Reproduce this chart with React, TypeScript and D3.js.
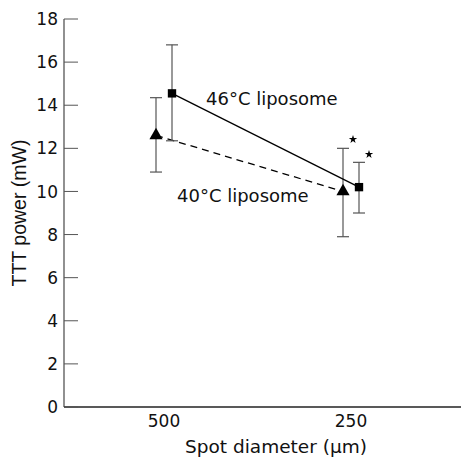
import React from "react";
import * as d3 from "d3";

const categories = ["500", "250"];
const seriesNames = ["40°C liposome", "46°C liposome"];
const means40 = [12.6, 10.0];
const upper40 = [14.35, 12.0];
const lower40 = [10.9, 7.9];
const means46 = [14.55, 10.2];
const upper46 = [16.8, 11.35];
const lower46 = [12.35, 9.0];
const yTicks = [0, 2, 4, 6, 8, 10, 12, 14, 16, 18];

const W = 461, H = 461;
const axisLeft = 64, axisBottom = 407, axisTop = 19;

export default function App() {
  const y = d3.scaleLinear().domain([0, 18]).range([axisBottom, axisTop]);
  const x = d3.scalePoint<string>().domain(categories).range([164, 351]);
  const series = [
    { name: seriesNames[0], means: means40, upper: upper40, lower: lower40, off: -8, dash: "7,5", shape: d3.symbolTriangle, size: 75, labelX: 177, labelY: 202 },
    { name: seriesNames[1], means: means46, upper: upper46, lower: lower46, off: 8, dash: "none", shape: d3.symbolSquare, size: 70, labelX: 206, labelY: 105 },
  ];
  const line = d3.line<[number, number]>().x(d => d[0]).y(d => d[1]);
  const star = d3.symbol().type(d3.symbolStar).size(22)();
  const font = "'DejaVu Sans', Lato, sans-serif";
  return (
    <svg width={W} height={H} style={{ position: "absolute", left: 0, top: 0 }}>
      <rect width={W} height={H} fill="#fff" />
      {/* axes */}
      <line x1={axisLeft} x2={axisLeft} y1={axisTop} y2={axisBottom} stroke="#555" strokeWidth={1.3} />
      <line x1={axisLeft} x2={W} y1={axisBottom} y2={axisBottom} stroke="#222" strokeWidth={1.3} />
      {yTicks.map(t => (
        <g key={t}>
          <line x1={axisLeft} x2={axisLeft + 14} y1={y(t)} y2={y(t)} stroke="#555" strokeWidth={1} />
          <text x={58} y={y(t)} dy="0.36em" textAnchor="end" fontFamily={font} fontSize={17} fill="#111">{t}</text>
        </g>
      ))}
      {categories.map(c => (
        <text key={c} x={x(c)} y={427} textAnchor="middle" fontFamily={font} fontSize={17} fill="#111">{c}</text>
      ))}
      <text x={276} y={453} textAnchor="middle" fontFamily={font} fontSize={18.5} fill="#111">Spot diameter (μm)</text>
      <text transform={`translate(26,213) rotate(-90)`} textAnchor="middle" fontFamily="'Liberation Sans', Arial, sans-serif" fontSize={19.5} fill="#111">TTT power (mW)</text>
      {series.map(s => {
        const pts: [number, number][] = categories.map((c, i) => [(x(c) as number) + s.off, y(s.means[i])]);
        return (
          <g key={s.name}>
            {categories.map((c, i) => {
              const cx = (x(c) as number) + s.off;
              return (
                <g key={c} stroke="#555" strokeWidth={1.2}>
                  <line x1={cx} x2={cx} y1={y(s.upper[i])} y2={y(s.lower[i])} />
                  <line x1={cx - 6} x2={cx + 6} y1={y(s.upper[i])} y2={y(s.upper[i])} />
                  <line x1={cx - 6} x2={cx + 6} y1={y(s.lower[i])} y2={y(s.lower[i])} />
                </g>
              );
            })}
            <path d={line(pts) || ""} fill="none" stroke="#000" strokeWidth={1.3} strokeDasharray={s.dash} />
            {pts.map((p, i) => (
              <path key={i} d={d3.symbol().type(s.shape).size(s.size)() || ""} transform={`translate(${p[0]},${p[1]})`} fill="#000" />
            ))}
            <text x={s.labelX} y={s.labelY} fontFamily={font} fontSize={18} fill="#111">{s.name}</text>
          </g>
        );
      })}
      {/* significance stars above the 250 µm error bars */}
      <path d={star || ""} transform={`translate(${(x("250") as number) + series[0].off + 10},${y(upper40[1]) - 9})`} fill="#000" />
      <path d={star || ""} transform={`translate(${(x("250") as number) + series[1].off + 10},${y(upper46[1]) - 8})`} fill="#000" />
    </svg>
  );
}
